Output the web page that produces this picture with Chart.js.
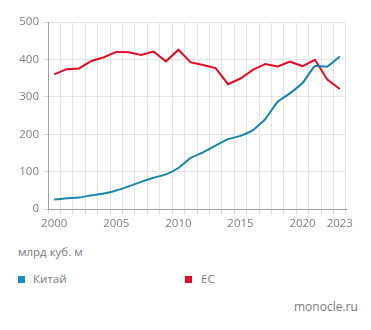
<!DOCTYPE html>
<html>
<head>
<meta charset="utf-8">
<script src="https://cdn.jsdelivr.net/npm/chart.js@4"></script>
<style>
  body { margin: 0; background: #fff; font-family: "Open Sans", sans-serif; }
  #wrap { position: relative; width: 371px; height: 330px; }
  #box { position: absolute; left: 0; top: 0; width: 371px; height: 240px; }
  .txt { position: absolute; color: #7a7a7a; font-size: 11.5px; line-height: 14px; white-space: nowrap; }
  .sq { position: absolute; width: 7px; height: 7px; }
</style>
</head>
<body>
<div id="wrap">
  <div id="box"><canvas id="lineChart"></canvas></div>
  <div class="txt" style="left:18px; top:245px;">млрд куб. м</div>
  <div class="sq" style="left:18px; top:276px; background:#1a8bc2;"></div>
  <div class="txt" style="left:33px; top:272px;">Китай</div>
  <div class="sq" style="left:185px; top:276px; background:#e30b1e;"></div>
  <div class="txt" style="left:201px; top:272px;">ЕС</div>
  <div class="txt" style="left:294px; top:300px; font-size:12px;">monocle.ru</div>
</div>
<script>
var years = ['2000','2001','2002','2003','2004','2005','2006','2007','2008','2009','2010','2011',
             '2012','2013','2014','2015','2016','2017','2018','2019','2020','2021','2022','2023'];
var china = [26, 29, 31, 37, 42, 50, 61, 73, 84, 93, 110, 137, 152, 170, 187, 196, 211, 241, 287, 310, 337, 382, 381, 408];
var eu = [360, 374, 376, 396, 406, 420, 419, 412, 421, 395, 426, 392, 385, 377, 334, 349, 372, 388, 381, 394, 382, 399, 346, 321];
var shownYears = ['2000', '2005', '2010', '2015', '2020', '2023'];

var aChart = document.getElementById('lineChart');
var lineChart = new Chart(aChart, {
  type: 'line',
  data: {
    labels: years,
    datasets: [{
      label: 'Китай',
      data: china,
      borderColor: '#1786a8',
      borderWidth: 2,
      pointRadius: 0,
      tension: 0.15,
      fill: false
    }, {
      label: 'ЕС',
      data: eu,
      borderColor: '#e30b24',
      borderWidth: 2,
      pointRadius: 0,
      tension: 0,
      fill: false
    }]
  },
  options: {
    responsive: true,
    maintainAspectRatio: false,
    animation: false,
    layout: { padding: { left: 0, right: 25, top: 22, bottom: 6 } },
    plugins: {
      legend: { display: false },
      tooltip: { enabled: false }
    },
    scales: {
      x: {
        offset: true,
        grid: { offset: true, color: '#e4e4e4', tickLength: 5, tickColor: '#dcdcdc' },
        border: { color: '#a0a0a0' },
        ticks: {
          autoSkip: false,
          maxRotation: 0,
          padding: 3,
          color: '#808080',
          font: { family: 'Open Sans', size: 11.5 },
          callback: function(val, i) {
            var y = years[i];
            return shownYears.indexOf(y) >= 0 ? y : '';
          }
        }
      },
      y: {
        min: 0,
        max: 500,
        grid: { color: '#e4e4e4', tickLength: 5, tickColor: '#dcdcdc' },
        border: { color: '#a0a0a0' },
        afterFit: function(scale) { scale.width = 48; },
        ticks: {
          stepSize: 100,
          padding: 4,
          color: '#808080',
          font: { family: 'Open Sans', size: 11.5 }
        }
      }
    }
  }
});
</script>
</body>
</html>
